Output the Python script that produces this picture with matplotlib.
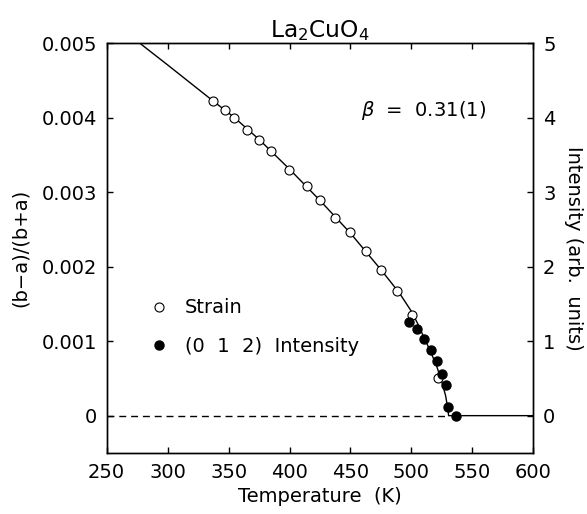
import numpy as np
import matplotlib
matplotlib.use("Agg")
import matplotlib.pyplot as plt

# strain data (open circles), left axis
strain_T = [337, 346.8, 354.5, 364.8, 375.2, 384.8, 399.8, 414, 425, 437.6,
            449.6, 462.5, 475.3, 488.4, 500.2, 522.1]
strain = [0.00423, 0.00411, 0.00400, 0.00384, 0.00370, 0.00356, 0.00330,
          0.00309, 0.00290, 0.00266, 0.00246, 0.00221, 0.00195, 0.00168,
          0.00135, 0.00050]

# (0 1 2) intensity (filled circles), right axis
int_T = [498.3, 504.3, 510.3, 516.3, 521.0, 525.4, 528.1, 530.3, 536.6]
intensity = [1.262, 1.163, 1.034, 0.881, 0.738, 0.559, 0.407, 0.112, 0.0]

# fitted curve
fit_T = [277.3, 300, 337, 355, 375, 400, 425, 450, 475, 490, 500, 505, 510,
         516, 521, 525, 528, 529.8, 530.5, 600]
fit_y = [0.00500, 0.00471, 0.00423, 0.00400, 0.00371, 0.00331, 0.00289,
         0.00245, 0.00196, 0.00165, 0.00140, 0.00124, 0.00106, 0.00085,
         0.00065, 0.00045, 0.00027, 0.00010, 0.0, 0.0]

plt.rcParams['font.family'] = ['DejaVu Sans']
plt.rcParams['font.size'] = 14

fig = plt.figure(figsize=(5.87, 5.14), dpi=100)
ax = fig.add_axes([0.1817, 0.1189, 0.7269, 0.7968])
ax2 = ax.twinx()

ax.plot([250, 530.5], [0, 0], color='black', lw=1.0, dashes=(5, 3.5))
ax.plot(fit_T, fit_y, color='black', lw=1.0)
ax.plot(strain_T, strain, 'o', mfc='white', mec='black', mew=0.8, ms=6.5,
        label='Strain', zorder=3)
ax2.plot(int_T, intensity, 'o', mfc='black', mec='black', ms=6.5,
         label='(0  1  2)  Intensity', zorder=3)

ax.set_xlim(250, 600)
ax.set_ylim(-0.0005, 0.005)
ax2.set_ylim(-0.5, 5)
ax.set_xticks(np.arange(250, 601, 50))
ax.set_yticks([0, 0.001, 0.002, 0.003, 0.004, 0.005])
ax.set_yticklabels(['0', '0.001', '0.002', '0.003', '0.004', '0.005'])
ax2.set_yticks([0, 1, 2, 3, 4, 5])

ax.tick_params(direction='in', length=4.5, width=1, top=True, pad=7)
ax.tick_params(axis='y', left=True, right=False)
ax2.tick_params(direction='in', length=4.5, width=1, pad=7)
for a in (ax, ax2):
    for s in a.spines.values():
        s.set_linewidth(1.0)

ax.set_xlabel('Temperature  (K)', labelpad=4)
ax.set_ylabel('(b\u2212a)/(b+a)', labelpad=8)
ax2.set_ylabel('Intensity (arb.  units)', rotation=270, labelpad=20)
ax.set_title(r'La$_2$CuO$_4$', pad=4)

ax.text(0.597, 0.822, r'$\beta$  =  0.31(1)', transform=ax.transAxes,
        fontsize=14)

h1, l1 = ax.get_legend_handles_labels()
h2, l2 = ax2.get_legend_handles_labels()
ax.legend(h1 + h2, l1 + l2, loc='upper left', bbox_to_anchor=(0.06, 0.42),
          frameon=False, handlelength=1.0, handletextpad=0.8,
          labelspacing=1.0, fontsize=14)

fig.savefig('out.png', dpi=100)
